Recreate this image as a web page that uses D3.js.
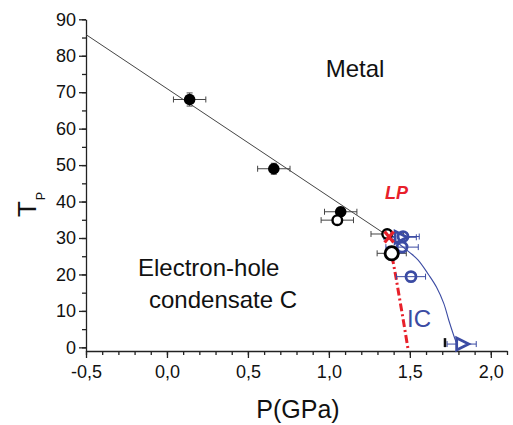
<!DOCTYPE html>
<html lang="en">
<head>
    <meta charset="UTF-8">
    <script src="https://d3js.org/d3.v7.min.js"></script>
    <title>Phase diagram</title>
    <style>
        body { margin: 0; background: #fff; }
        text { font-family: "Liberation Sans", Arial, sans-serif; }
    </style>
</head>
<body>
<script>
    // Tick values and labels
    const xTicks = [-0.5, 0.0, 0.5, 1.0, 1.5, 2.0];
    const xTickLabels = ["-0,5", "0,0", "0,5", "1,0", "1,5", "2,0"];
    const yTicks = [0, 10, 20, 30, 40, 50, 60, 70, 80, 90];

    // Filled black circles
    const filledP = [0.14, 0.66, 1.073];
    const filledT = [68.0, 49.0, 37.2];
    const filledPErr = [0.10, 0.10, 0.10];
    const filledTErr = [1.8, 1.5, 1.2];

    // Open black circles
    const openP = [1.052, 1.36];
    const openT = [34.9, 31.1];
    const openPErr = [0.10, 0.10];

    // Large open black circle
    const bigP = [1.388];
    const bigT = [25.8];
    const bigPErr = [0.09];

    // Blue open circles
    const blueCircP = [1.458, 1.452, 1.507];
    const blueCircT = [30.4, 27.5, 19.4];
    const blueCircPErr = [0.10, 0.10, 0.09];

    // Blue triangles
    const blueTriP = [1.44, 1.82];
    const blueTriT = [30.2, 0.9];
    const blueTriPErr = [0.10, 0.09];

    // Red cross (LP)
    const lpP = [1.372];
    const lpT = [30.3];

    // Black bar marker
    const barP = [1.717];
    const barT = [1.3];

    // Straight boundary line
    const lineP = [-0.5, 1.37];
    const lineT = [85.8, 30.4];

    // Blue IC boundary
    const icP = [1.37, 1.43, 1.50, 1.55, 1.615, 1.665, 1.71, 1.74, 1.77, 1.785];
    const icT = [30.4, 28.5, 26.0, 24.0, 20.0, 16.5, 12.0, 7.5, 3.4, 1.5];

    // Red dash-dot boundary
    const redP = [1.39, 1.415, 1.44, 1.465, 1.49];
    const redT = [25.0, 19.0, 12.5, 6.0, -0.8];

    const width = 513, height = 425;
    const blue = "#3b4ba3", red = "#e8202a", ink = "#111";

    const svg = d3.select("body").append("svg")
        .attr("width", width)
        .attr("height", height);

    const x = d3.scaleLinear().domain([-0.5, 2.1]).range([86, 507]);
    const y = d3.scaleLinear().domain([-1, 90]).range([351, 19.3]);

    const zip = (ps, ts, extra) => ps.map((p, i) => Object.assign({p: p, t: ts[i]}, extra ? extra(i) : {}));

    // Axes
    const xMinor = d3.range(-5, 22).map(v => v / 10);
    const yMinor = d3.range(0, 91, 5);

    svg.append("g")
        .attr("transform", "translate(0," + y(-1) + ")")
        .call(d3.axisBottom(x).tickValues(xMinor).tickSize(4).tickFormat(""))
        .call(g => g.select(".domain").remove());
    svg.append("g")
        .attr("transform", "translate(0," + y(-1) + ")")
        .call(d3.axisBottom(x).tickValues(xTicks).tickSize(7).tickSizeOuter(0).tickPadding(7)
            .tickFormat((d, i) => xTickLabels[i]));

    svg.append("g")
        .attr("transform", "translate(" + x(-0.5) + ",0)")
        .call(d3.axisLeft(y).tickValues(yMinor).tickSize(4).tickFormat(""))
        .call(g => g.select(".domain").remove());
    svg.append("g")
        .attr("transform", "translate(" + x(-0.5) + ",0)")
        .call(d3.axisLeft(y).tickValues(yTicks).tickSize(7).tickSizeOuter(0).tickPadding(3));

    svg.selectAll(".domain, .tick line").attr("stroke", "#222").attr("stroke-width", 1.3);
    svg.selectAll(".tick text").attr("font-size", 18).attr("fill", ink)
        .attr("font-family", "Liberation Sans, Arial, sans-serif");

    // Axis titles
    svg.append("text")
        .attr("x", 298).attr("y", 418)
        .attr("text-anchor", "middle")
        .attr("font-size", 25).attr("fill", ink)
        .text("P(GPa)");
    svg.append("text")
        .attr("transform", "translate(36,209) rotate(-90)")
        .attr("text-anchor", "middle")
        .attr("font-size", 26).attr("fill", ink)
        .text("T");
    svg.append("text")
        .attr("transform", "translate(45,196) rotate(-90)")
        .attr("text-anchor", "middle")
        .attr("font-size", 12.5).attr("fill", ink)
        .text("P");

    // Lines
    const path = d3.line().x(d => x(d.p)).y(d => y(d.t));
    svg.append("path")
        .datum(zip(lineP, lineT))
        .attr("fill", "none").attr("stroke", "#444").attr("stroke-width", 1)
        .attr("d", path);
    svg.append("path")
        .datum(zip(icP, icT))
        .attr("fill", "none").attr("stroke", blue).attr("stroke-width", 1.1)
        .attr("d", path.curve(d3.curveCatmullRom));
    svg.append("path")
        .datum(zip(redP, redT))
        .attr("fill", "none").attr("stroke", red).attr("stroke-width", 3)
        .attr("stroke-dasharray", "8,3,2,3")
        .attr("d", d3.line().x(d => x(d.p)).y(d => y(d.t)).curve(d3.curveCatmullRom));

    // Error bars
    const errorBars = (data, color) => {
        const g = svg.append("g").attr("stroke", color).attr("stroke-width", 1).attr("fill", "none");
        data.forEach(d => {
            const x0 = x(d.p - d.pe), x1 = x(d.p + d.pe), cy = y(d.t);
            g.append("line").attr("x1", x0).attr("x2", x1).attr("y1", cy).attr("y2", cy);
            g.append("line").attr("x1", x0).attr("x2", x0).attr("y1", cy - 3).attr("y2", cy + 3);
            g.append("line").attr("x1", x1).attr("x2", x1).attr("y1", cy - 3).attr("y2", cy + 3);
            if (d.te) {
                const y0 = y(d.t - d.te), y1 = y(d.t + d.te), cx = x(d.p);
                g.append("line").attr("x1", cx).attr("x2", cx).attr("y1", y0).attr("y2", y1);
                g.append("line").attr("x1", cx - 3).attr("x2", cx + 3).attr("y1", y0).attr("y2", y0);
                g.append("line").attr("x1", cx - 3).attr("x2", cx + 3).attr("y1", y1).attr("y2", y1);
            }
        });
    };

    const filled = zip(filledP, filledT, i => ({pe: filledPErr[i], te: filledTErr[i]}));
    const open = zip(openP, openT, i => ({pe: openPErr[i]}));
    const big = zip(bigP, bigT, i => ({pe: bigPErr[i]}));
    const blueCirc = zip(blueCircP, blueCircT, i => ({pe: blueCircPErr[i]}));
    const blueTri = zip(blueTriP, blueTriT, i => ({pe: blueTriPErr[i]}));

    errorBars(blueCirc, blue);
    errorBars(blueTri, blue);
    errorBars(filled, "#444");
    errorBars(open, "#444");
    errorBars(big, "#444");

    // Blue markers
    svg.selectAll(".btri")
        .data(blueTri)
        .enter().append("path")
        .attr("transform", d => "translate(" + x(d.p) + "," + y(d.t) + ")")
        .attr("d", "M-5,-6L7,0L-5,6Z")
        .attr("fill", "#fff").attr("stroke", blue).attr("stroke-width", 2.8);
    svg.selectAll(".bcirc")
        .data(blueCirc)
        .enter().append("circle")
        .attr("cx", d => x(d.p)).attr("cy", d => y(d.t))
        .attr("r", 5)
        .attr("fill", "none").attr("stroke", blue).attr("stroke-width", 2.8);

    // Black markers
    svg.selectAll(".filled")
        .data(filled)
        .enter().append("circle")
        .attr("cx", d => x(d.p)).attr("cy", d => y(d.t))
        .attr("r", 5.8)
        .attr("fill", "#000");
    svg.selectAll(".open")
        .data(open)
        .enter().append("circle")
        .attr("cx", d => x(d.p)).attr("cy", d => y(d.t))
        .attr("r", 4.8)
        .attr("fill", "#fff").attr("stroke", "#000").attr("stroke-width", 2.4);
    svg.selectAll(".big")
        .data(big)
        .enter().append("circle")
        .attr("cx", d => x(d.p)).attr("cy", d => y(d.t))
        .attr("r", 6.6)
        .attr("fill", "#fff").attr("stroke", "#000").attr("stroke-width", 2.8);

    svg.selectAll(".bar")
        .data(zip(barP, barT))
        .enter().append("line")
        .attr("x1", d => x(d.p)).attr("x2", d => x(d.p))
        .attr("y1", d => y(d.t) - 4.5).attr("y2", d => y(d.t) + 4.5)
        .attr("stroke", "#111").attr("stroke-width", 2.5);

    // Red cross
    svg.selectAll(".lp")
        .data(zip(lpP, lpT))
        .enter().append("path")
        .attr("transform", d => "translate(" + x(d.p) + "," + y(d.t) + ")")
        .attr("d", "M-4.5,-5.5L4.5,5.5M4.5,-5.5L-4.5,5.5")
        .attr("stroke", red).attr("stroke-width", 3.2).attr("fill", "none");

    // Region labels
    svg.append("text")
        .attr("x", 355).attr("y", 77)
        .attr("text-anchor", "middle")
        .attr("font-size", 24).attr("fill", ink)
        .text("Metal");
    svg.append("text")
        .attr("x", 138).attr("y", 276)
        .attr("font-size", 24).attr("fill", ink)
        .text("Electron-hole");
    svg.append("text")
        .attr("x", 149).attr("y", 308)
        .attr("font-size", 24).attr("fill", ink)
        .text("condensate C");
    svg.append("text")
        .attr("x", 385).attr("y", 199)
        .attr("font-size", 18).attr("font-weight", "bold").attr("font-style", "italic")
        .attr("fill", red)
        .text("LP");
    svg.append("text")
        .attr("x", 407).attr("y", 327)
        .attr("font-size", 24).attr("fill", blue)
        .text("IC");
</script>
</body>
</html>
